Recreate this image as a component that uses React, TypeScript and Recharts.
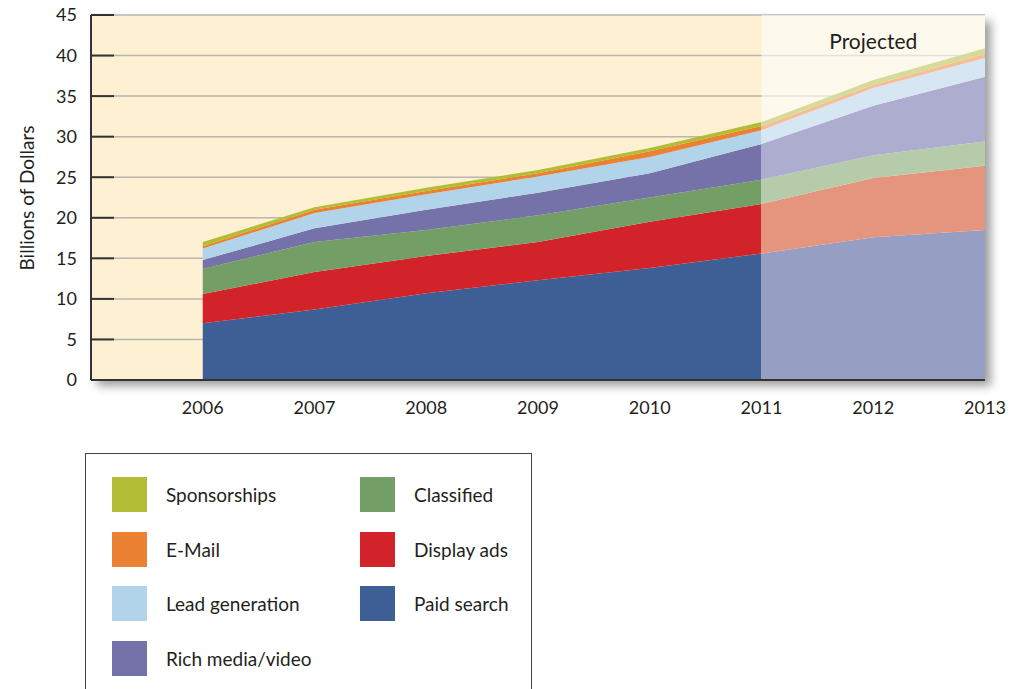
import { AreaChart, Area, XAxis, YAxis, CartesianGrid, ReferenceArea, Legend } from 'recharts';

const years = [2006, 2007, 2008, 2009, 2010, 2011, 2012, 2013];
const yTicks = [0, 5, 10, 15, 20, 25, 30, 35, 40, 45];

// billions of dollars per category
const paidSearch = [7.0, 8.7, 10.7, 12.3, 13.8, 15.6, 17.6, 18.5];
const displayAds = [3.6, 4.6, 4.6, 4.7, 5.7, 6.1, 7.3, 7.9];
const classified = [3.1, 3.7, 3.2, 3.3, 3.0, 3.0, 2.8, 3.0];
const richMedia = [1.1, 1.7, 2.5, 2.8, 3.0, 4.4, 6.1, 8.0];
const leadGen = [1.4, 1.9, 1.9, 2.0, 2.0, 1.7, 2.2, 2.3];
const eMail = [0.3, 0.4, 0.4, 0.4, 0.7, 0.5, 0.4, 0.5];
const sponsorships = [0.5, 0.3, 0.4, 0.4, 0.4, 0.5, 0.6, 0.7];

const FIRST_PROJECTED = 2011;

type Series = { key: string; name: string; values: number[]; color: string; light: string };

// bottom to top
const series: Series[] = [
    { key: 'paid', name: 'Paid search', values: paidSearch, color: '#3D5F96', light: '#979EC4' },
    { key: 'display', name: 'Display ads', values: displayAds, color: '#D2232A', light: '#E5957D' },
    { key: 'classified', name: 'Classified', values: classified, color: '#739E66', light: '#B5CBAA' },
    { key: 'rich', name: 'Rich media/video', values: richMedia, color: '#7572A9', light: '#ADADD0' },
    { key: 'lead', name: 'Lead generation', values: leadGen, color: '#B2D4EA', light: '#D6E6F2' },
    { key: 'email', name: 'E-Mail', values: eMail, color: '#EB8132', light: '#F6BE96' },
    { key: 'spons', name: 'Sponsorships', values: sponsorships, color: '#B2BD35', light: '#D6DB9A' },
];

// legend reads column by column like the original
const legendOrder = ['spons', 'email', 'lead', 'rich', 'classified', 'display', 'paid'];

const data = years.map((year, i) => {
    const row: Record<string, number> = { year };
    series.forEach(s => { row[s.key] = s.values[i]; });
    return row;
});

const splitAt = (FIRST_PROJECTED - years[0]) / (years[years.length - 1] - years[0]);

const font = 'Lato, "Noto Sans", sans-serif';
const ink = '#231F20';

const YTick = (props: any) => {
    const { x, y, payload } = props;
    return (
        <g>
            <line x1={x + 14} x2={x + 37} y1={y} y2={y} stroke='#333' strokeWidth={2} />
            <text x={x} y={y} dy='0.355em' textAnchor='end' fontSize={18} fill={ink} fontFamily={font}>
                {payload.value}
            </text>
        </g>
    );
};

const LegendBox = () => {
    const rows = 4;
    return (
        <div style={{
            position: 'relative', width: 447, height: 260, border: '1.5px solid #444',
            boxSizing: 'border-box', background: '#fff', fontFamily: font,
        }}>
            {legendOrder.map((k, i) => {
                const s = series.find(d => d.key === k)!;
                const col = Math.floor(i / rows);
                const row = i % rows;
                return (
                    <div key={k} style={{
                        position: 'absolute', left: 26 + col * 248, top: 23 + row * 54.7,
                        display: 'flex', alignItems: 'center', height: 35,
                    }}>
                        <span style={{ width: 35, height: 35, background: s.color, display: 'inline-block' }} />
                        <span style={{ marginLeft: 19, fontSize: 19, color: ink }}>{s.name}</span>
                    </div>
                );
            })}
        </div>
    );
};

export default function App() {
    return (
        <div style={{ position: 'absolute', left: 0, top: 0, width: 1016, height: 689, background: '#fff', overflow: 'hidden' }}>
            {/* plot backdrop with its drop shadow */}
            <div style={{
                position: 'absolute', left: 91, top: 15, width: 894, height: 365,
                background: '#FDF0D3', boxShadow: '6px 6px 9px rgba(0,0,0,0.38)',
            }} />
            <div style={{
                position: 'absolute', left: 8, top: 198, transform: 'translate(-50%, -50%) rotate(-90deg)',
                marginLeft: 18, whiteSpace: 'nowrap', fontFamily: font, fontSize: 19, color: ink,
            }}>
                Billions of Dollars
            </div>
            <div style={{ position: 'absolute', left: 0, top: 0 }}>
                <AreaChart width={1016} height={430} data={data} margin={{ top: 15, right: 31, left: 0, bottom: 0 }}>
                    <defs>
                        {series.map(s => (
                            <linearGradient key={s.key} id={`fill-${s.key}`} x1='0' y1='0' x2='1' y2='0'>
                                <stop offset={0} stopColor={s.color} />
                                <stop offset={splitAt} stopColor={s.color} />
                                <stop offset={splitAt} stopColor={s.light} />
                                <stop offset={1} stopColor={s.light} />
                            </linearGradient>
                        ))}
                    </defs>
                    <CartesianGrid vertical={false} stroke='#B9B6AE' strokeWidth={1.5} />
                    <ReferenceArea
                        x1={FIRST_PROJECTED}
                        x2={years[years.length - 1]}
                        y1={0}
                        y2={45}
                        fill='#FFFFFF'
                        fillOpacity={0.6}
                        stroke='none'
                        label={{ value: 'Projected', position: 'insideTop', offset: 19, fontSize: 21, fill: ink, fontFamily: font }}
                    />
                    <XAxis
                        dataKey='year'
                        type='number'
                        domain={[2005, 2013]}
                        ticks={years}
                        height={50}
                        tickLine={false}
                        tickSize={0}
                        tickMargin={21}
                        axisLine={{ stroke: '#333', strokeWidth: 2 }}
                        tick={{ fontSize: 18, fill: ink, fontFamily: font }}
                    />
                    <YAxis
                        domain={[0, 45]}
                        ticks={yTicks}
                        width={91}
                        tickLine={false}
                        tickSize={0}
                        tickMargin={14}
                        axisLine={{ stroke: '#333', strokeWidth: 2 }}
                        tick={<YTick />}
                        interval={0}
                    />
                    {series.map(s => (
                        <Area
                            key={s.key}
                            type='linear'
                            dataKey={s.key}
                            name={s.name}
                            stackId='spend'
                            stroke='none'
                            fill={`url(#fill-${s.key})`}
                            fillOpacity={1}
                            isAnimationActive={false}
                            dot={false}
                            activeDot={false}
                        />
                    ))}
                    <Legend
                        layout='horizontal'
                        verticalAlign='middle'
                        align='center'
                        wrapperStyle={{ left: 85, top: 453, width: 447, height: 260 }}
                        content={() => <LegendBox />}
                    />
                </AreaChart>
            </div>
        </div>
    );
}
